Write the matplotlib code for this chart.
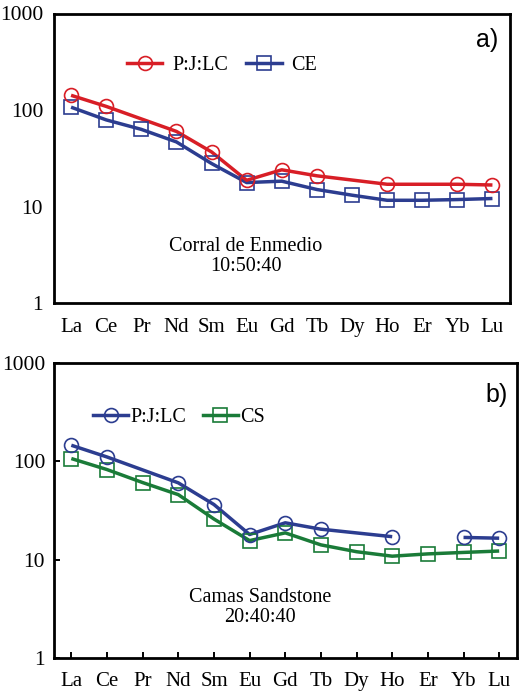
import numpy as np
import matplotlib
matplotlib.use("Agg")
import matplotlib.pyplot as plt
from matplotlib.lines import Line2D
from matplotlib.ticker import FixedLocator, FixedFormatter, NullLocator

# ---------------- data ----------------
elements = ["La", "Ce", "Pr", "Nd", "Sm", "Eu", "Gd", "Tb", "Dy", "Ho", "Er", "Yb", "Lu"]

# panel a
pjlc_a = [142, 109, None, 60, 36.8, 18.7, 24, 20.8, None, 17, None, 17, 16.7]
ce_a = [107, 79, 63, 46.7, 27.9, 17.7, 18.3, 15, 13.1, 11.6, 11.6, 11.8, 12.1]
# panel b
pjlc_b = [146, 111, None, 60.6, 36.5, 18.1, 23.8, 20.5, None, 17.2, None, 16.9, 16.6]
cs_b = [107, 82.7, 61, 46, 26, 15.7, 18.8, 14.2, 12.1, 10.9, 11.5, 11.9, 12.3]
# missing elements where the P:J:LC line is broken (not bridged)
pjlc_b_breaks = ["Er"]

y_ticks = [1, 10, 100, 1000]
y_labels = ["1", "10", "100", "1000"]

label_a = "a)"
label_b = "b)"
note_a = "Corral de Enmedio\n10:50:40"
note_b = "Camas Sandstone\n20:40:40"

RED = "#D81E26"
BLUE = "#2C3D90"
GREEN = "#1A7B38"

SERIF = ["Liberation Serif", "DejaVu Serif"]
SANS = ["Liberation Sans", "DejaVu Sans"]

plt.rcParams["font.family"] = SERIF

fig = plt.figure(figsize=(5.31, 7.0), dpi=100)
ax_a = fig.add_axes([53.5 / 531, 1 - 303 / 700, (510 - 53.5) / 531, (303 - 13.5) / 700])
ax_b = fig.add_axes([53.5 / 531, 1 - 658.3 / 700, (517 - 53.5) / 531, (658.3 - 363) / 700])

x_all = np.arange(len(elements))

LW = 2.5
MS = 10
MEW = 1.2


def plot_series(ax, vals, color, marker, breaks=()):
    idx = [i for i, v in enumerate(vals) if v is not None]
    xs = np.array(idx)
    ys = np.array([vals[i] for i in idx], dtype=float)
    brk = {elements.index(b) for b in breaks}
    seg_x, seg_y = [xs[0]], [ys[0]]
    for k in range(1, len(xs)):
        gap = set(range(xs[k - 1] + 1, xs[k]))
        if gap & brk:
            ax.plot(seg_x, seg_y, color=color, lw=LW, solid_capstyle="butt", zorder=2)
            seg_x, seg_y = [], []
        seg_x.append(xs[k])
        seg_y.append(ys[k])
    ax.plot(seg_x, seg_y, color=color, lw=LW, solid_capstyle="butt", zorder=2)
    ax.plot(xs, ys, linestyle="none", marker=marker, ms=MS, mfc="none",
            mec=color, mew=MEW, zorder=3)


def style_axes(ax, ticks_visible):
    ax.set_yscale("log")
    ax.set_ylim(1, 1000)
    ax.set_xlim(-0.5, len(elements) - 0.5)
    ax.yaxis.set_major_locator(FixedLocator(y_ticks))
    ax.yaxis.set_major_formatter(FixedFormatter(y_labels))
    ax.yaxis.set_minor_locator(NullLocator())
    ax.set_xticks(x_all)
    ax.set_xticklabels(elements)
    for s in ax.spines.values():
        s.set_linewidth(2.0)
        s.set_color("black")
    if ticks_visible:
        ax.tick_params(axis="both", which="major", direction="in", length=4,
                       width=1.4, top=False, right=False)
        ax.tick_params(axis="x", pad=10)
        ax.tick_params(axis="y", pad=6)
    else:
        ax.tick_params(axis="both", which="major", length=0)
        ax.tick_params(axis="x", pad=11)
        ax.tick_params(axis="y", pad=7.5)
    for lab in ax.get_xticklabels():
        lab.set_fontsize(15)
        lab.set_family(SERIF)
    for lab in ax.get_yticklabels():
        lab.set_fontsize(15.5)
        lab.set_family(SERIF)


# ---- panel a ----
plot_series(ax_a, ce_a, BLUE, "s")
plot_series(ax_a, pjlc_a, RED, "o")
style_axes(ax_a, ticks_visible=False)
ha = [Line2D([], [], color=RED, lw=LW, marker="o", ms=MS, mfc="none", mec=RED, mew=MEW),
      Line2D([], [], color=BLUE, lw=LW, marker="s", ms=MS, mfc="none", mec=BLUE, mew=MEW)]
ax_a.legend(ha, ["P:J:LC", "CE"], ncol=2, loc="center left",
            bbox_to_anchor=(0.161, 0.819), frameon=False, borderpad=0,
            handlelength=1.75, handletextpad=0.5, columnspacing=0.9,
            prop={"family": SERIF, "size": 14.5}, borderaxespad=0)
ax_a.text(0.974, 0.907, label_a, transform=ax_a.transAxes, ha="right", va="center",
          family=SANS, fontsize=18)
ax_a.text(0.4217, 0.16, note_a, transform=ax_a.transAxes, ha="center", va="center",
          family=SERIF, fontsize=14.5, linespacing=1.1)

# ---- panel b ----
plot_series(ax_b, cs_b, GREEN, "s")
plot_series(ax_b, pjlc_b, BLUE, "o", breaks=pjlc_b_breaks)
style_axes(ax_b, ticks_visible=True)
hb = [Line2D([], [], color=BLUE, lw=LW, marker="o", ms=MS, mfc="none", mec=BLUE, mew=MEW),
      Line2D([], [], color=GREEN, lw=LW, marker="s", ms=MS, mfc="none", mec=GREEN, mew=MEW)]
ax_b.legend(hb, ["P:J:LC", "CS"], ncol=2, loc="center left",
            bbox_to_anchor=(0.0852, 0.814), frameon=False, borderpad=0,
            handlelength=1.75, handletextpad=0.12, columnspacing=0.8,
            prop={"family": SERIF, "size": 14.5}, borderaxespad=0)
ax_b.text(0.9806, 0.892, label_b, transform=ax_b.transAxes, ha="right", va="center",
          family=SANS, fontsize=18)
ax_b.text(0.4455, 0.172, note_b, transform=ax_b.transAxes, ha="center", va="center",
          family=SERIF, fontsize=14.5, linespacing=1.1)

fig.savefig("out.png", dpi=100)
